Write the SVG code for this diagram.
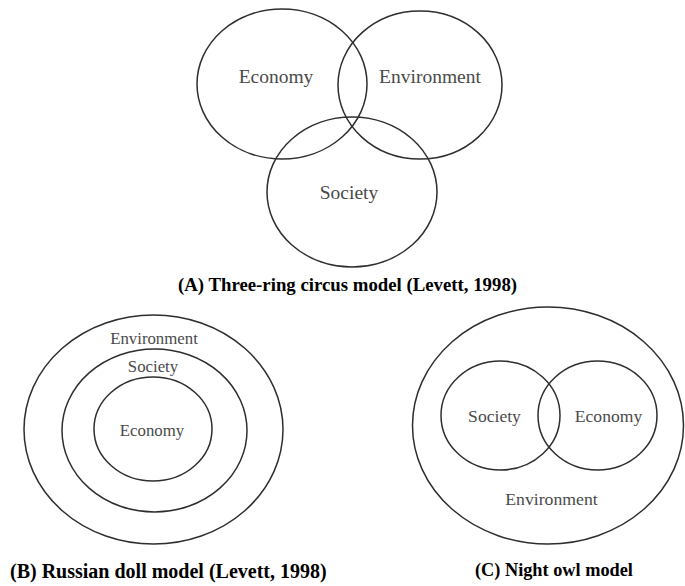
<svg xmlns="http://www.w3.org/2000/svg" width="685" height="586" viewBox="0 0 685 586">
<style>
.ring{fill:none;stroke:#2e2e2e;stroke-width:1.5}
.lbl{font-family:"Liberation Serif",serif;fill:#4a4a4a;text-anchor:middle}
.cap{font-family:"Liberation Serif",serif;font-weight:bold;fill:#000}
</style>
<rect width="685" height="586" fill="#fff"/>
<g id="panelA">
<g id="a-economy"><ellipse class="ring" cx="282" cy="84" rx="85" ry="75"/><text class="lbl" x="276" y="83" font-size="19.5">Economy</text></g>
<g id="a-environment"><ellipse class="ring" cx="420" cy="85" rx="82" ry="74"/><text class="lbl" x="430" y="83" font-size="19.5">Environment</text></g>
<g id="a-society"><ellipse class="ring" cx="352" cy="192" rx="85" ry="75"/><text class="lbl" x="349" y="199" font-size="19.5">Society</text></g>
<text class="cap" x="178" y="291" font-size="18.8">(A) Three-ring circus model (Levett, 1998)</text>
</g>
<g id="panelB">
<g id="b-environment"><ellipse class="ring" cx="153.5" cy="429.5" rx="129.5" ry="114.5"/><text class="lbl" x="154" y="344" font-size="16.8">Environment</text></g>
<g id="b-society"><ellipse class="ring" cx="154.5" cy="430.5" rx="92.5" ry="81.5"/><text class="lbl" x="153" y="372" font-size="16.8">Society</text></g>
<g id="b-economy"><ellipse class="ring" cx="153" cy="429" rx="59" ry="52"/><text class="lbl" x="152" y="436" font-size="16.8">Economy</text></g>
<text class="cap" x="10" y="578" font-size="20">(B) Russian doll model (Levett, 1998)</text>
</g>
<g id="panelC">
<g id="c-environment"><ellipse class="ring" cx="548" cy="425.5" rx="135.5" ry="118.5"/><text class="lbl" x="551.5" y="505" font-size="17.7">Environment</text></g>
<g id="c-society"><ellipse class="ring" cx="500.5" cy="415.5" rx="59.5" ry="54.5"/><text class="lbl" x="494.5" y="422" font-size="17.6">Society</text></g>
<g id="c-economy"><ellipse class="ring" cx="597.5" cy="415.5" rx="59.5" ry="54.5"/><text class="lbl" x="608.5" y="422" font-size="17.6">Economy</text></g>
<text class="cap" x="475" y="576" font-size="18.3">(C) Night owl model</text>
</g>
</svg>
